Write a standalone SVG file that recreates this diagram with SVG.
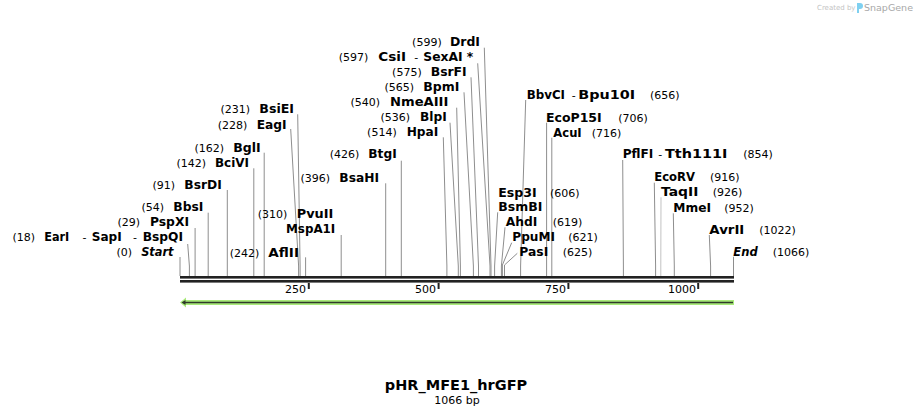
<svg xmlns="http://www.w3.org/2000/svg" width="914" height="415" viewBox="0 0 914 415">
<style>
text{font-family:"DejaVu Sans",Verdana,sans-serif;fill:#000}
.n{font-size:11px}
.b{font-size:12px;font-weight:bold}
.i{font-style:italic}
.e{text-anchor:end}
.c{text-anchor:middle}
.ln{fill:none;stroke:#8e8e8e;stroke-width:1}
.tk{font-size:11px}
</style>
<rect width="914" height="415" fill="#fff"/>
<g id="watermark">
<text x="817" y="10" style="font-size:7px;fill:#c4c4c4">Created by</text>
<path d="M857,3 h3 a3,3 0 0 1 0,6 h-1 v4 h-2 z" fill="#7fd0f0"/>
<text x="864" y="11" style="font-size:9.5px;fill:#a8a8a8">SnapGene</text>
</g>
<g id="connectors">
<path class="ln" d="M180,276V257"/>
<path class="ln" d="M189.4,276V266L187.7,244"/>
<path class="ln" d="M195.1,276V228"/>
<path class="ln" d="M208.2,276V212.7"/>
<path class="ln" d="M227.3,276V190"/>
<path class="ln" d="M253.8,276V168.3"/>
<path class="ln" d="M264.2,276V152.7"/>
<path class="ln" d="M298.6,276V266L290.7,129"/>
<path class="ln" d="M300.1,276V266L297.7,114.3"/>
<path class="ln" d="M305.6,276V257.3"/>
<path class="ln" d="M341.2,276V235"/>
<path class="ln" d="M385.7,276V183.3"/>
<path class="ln" d="M401.3,276V160.7"/>
<path class="ln" d="M446.9,276V266L443.3,137.3"/>
<path class="ln" d="M458.3,276V266L450,122.7"/>
<path class="ln" d="M460.4,276V266L456.7,107.7"/>
<path class="ln" d="M473.4,276V266L464,92.3"/>
<path class="ln" d="M478.5,276V266L471,77.3"/>
<path class="ln" d="M490,276V266L477.7,63.3"/>
<path class="ln" d="M491,276V266L484.3,47.7"/>
<path class="ln" d="M494.6,276V266L497.7,212.3"/>
<path class="ln" d="M501.4,276V266L505,227.3"/>
<path class="ln" d="M502.4,276V265L511.7,242.7"/>
<path class="ln" d="M504.5,276V265L517.3,253.3"/>
<path class="ln" d="M520.6,276V266L525.7,100"/>
<path class="ln" d="M546.6,276V122.7"/>
<path class="ln" d="M551.8,276V137.7"/>
<path class="ln" d="M623.4,276V266L622.7,160"/>
<path class="ln" d="M655.6,276V266L654.3,182.7"/>
<path class="ln" d="M660.8,276V266L661,197.3" style="stroke:#c2c2c2"/>
<path class="ln" d="M674.3,276V266L673.3,213.3"/>
<path class="ln" d="M710.6,276V266L709.3,235"/>
<path class="ln" d="M733.5,276V256.7"/>
</g>
<g id="ruler">
<rect x="180" y="276" width="554" height="2.6" fill="#222"/>
<rect x="180" y="280" width="554" height="2.6" fill="#222"/>
<rect x="307.8" y="283" width="2" height="6" fill="#222"/>
<rect x="437.6" y="283" width="2" height="6" fill="#222"/>
<rect x="567.4" y="283" width="2" height="6" fill="#222"/>
<rect x="697.2" y="283" width="2" height="6" fill="#222"/>
<text class="tk e" x="306" y="293">250</text>
<text class="tk e" x="436" y="293">500</text>
<text class="tk e" x="566" y="293">750</text>
<text class="tk e" x="696" y="293">1000</text>
</g>
<g id="feature">
<polygon points="180,302.5 186,297.5 186,300 734,300 734,305 186,305 186,307.5" fill="#a9ea7a"/>
<line x1="184" y1="302.5" x2="733" y2="302.5" stroke="#2f3a2a" stroke-width="1.6"/>
<polygon points="181.5,302.5 185.5,300 185.5,305" fill="#2f3a2a"/>
</g>
<g id="n-start"><text class="n e" x="132" y="256">(0)</text><text class="b i e" x="173.5" y="256" textLength="32.3" lengthAdjust="spacingAndGlyphs">Start</text></g>
<g id="n-eari"><text class="n e" x="35" y="241">(18)</text><text class="b" x="44.3" y="241" textLength="25" lengthAdjust="spacingAndGlyphs">EarI</text><text class="n" x="82.5" y="241">-</text><text class="b" x="91.7" y="241" textLength="30" lengthAdjust="spacingAndGlyphs">SapI</text><text class="n" x="133" y="241">-</text><text class="b e" x="183" y="241" textLength="40.3" lengthAdjust="spacingAndGlyphs">BspQI</text></g>
<g id="n-pspxi"><text class="n e" x="140" y="226">(29)</text><text class="b e" x="189" y="226" textLength="39" lengthAdjust="spacingAndGlyphs">PspXI</text></g>
<g id="n-bbsi"><text class="n e" x="164" y="210.5">(54)</text><text class="b e" x="203.3" y="210.5" textLength="30" lengthAdjust="spacingAndGlyphs">BbsI</text></g>
<g id="n-bsrdi"><text class="n e" x="175" y="188.5">(91)</text><text class="b e" x="221.7" y="188.5" textLength="37.4" lengthAdjust="spacingAndGlyphs">BsrDI</text></g>
<g id="n-bcivi"><text class="n e" x="206" y="166.5">(142)</text><text class="b e" x="249" y="166.5" textLength="34" lengthAdjust="spacingAndGlyphs">BciVI</text></g>
<g id="n-bgli"><text class="n e" x="224" y="151.5">(162)</text><text class="b e" x="260.7" y="151.5" textLength="27.4" lengthAdjust="spacingAndGlyphs">BglI</text></g>
<g id="n-eagi"><text class="n e" x="247.3" y="128.5">(228)</text><text class="b e" x="286.7" y="128.5" textLength="30" lengthAdjust="spacingAndGlyphs">EagI</text></g>
<g id="n-bsiei"><text class="n e" x="250" y="113">(231)</text><text class="b e" x="294" y="113" textLength="34.7" lengthAdjust="spacingAndGlyphs">BsiEI</text></g>
<g id="n-aflii"><text class="n e" x="259.3" y="256.5">(242)</text><text class="b e" x="299" y="256.5" textLength="30.7" lengthAdjust="spacingAndGlyphs">AflII</text></g>
<g id="n-pvuii"><text class="n e" x="287.3" y="218">(310)</text><text class="b e" x="333.3" y="218" textLength="36.6" lengthAdjust="spacingAndGlyphs">PvuII</text><text class="b e" x="335.3" y="232.5" textLength="49.3" lengthAdjust="spacingAndGlyphs">MspA1I</text></g>
<g id="n-bsahi"><text class="n e" x="330" y="181.5">(396)</text><text class="b e" x="379" y="181.5" textLength="39.7" lengthAdjust="spacingAndGlyphs">BsaHI</text></g>
<g id="n-btgi"><text class="n e" x="359.3" y="158">(426)</text><text class="b e" x="396.7" y="158" textLength="28.4" lengthAdjust="spacingAndGlyphs">BtgI</text></g>
<g id="n-hpai"><text class="n e" x="396.7" y="136">(514)</text><text class="b e" x="438.3" y="136" textLength="31.6" lengthAdjust="spacingAndGlyphs">HpaI</text></g>
<g id="n-blpi"><text class="n e" x="410" y="121">(536)</text><text class="b e" x="446.7" y="121" textLength="26.7" lengthAdjust="spacingAndGlyphs">BlpI</text></g>
<g id="n-nmeaiii"><text class="n e" x="380" y="106">(540)</text><text class="b e" x="448.3" y="106" textLength="58.3" lengthAdjust="spacingAndGlyphs">NmeAIII</text></g>
<g id="n-bpmi"><text class="n e" x="414" y="91">(565)</text><text class="b e" x="459.3" y="91" textLength="36" lengthAdjust="spacingAndGlyphs">BpmI</text></g>
<g id="n-bsrfi"><text class="n e" x="421.7" y="76">(575)</text><text class="b e" x="466.7" y="76" textLength="36" lengthAdjust="spacingAndGlyphs">BsrFI</text></g>
<g id="n-csii"><text class="n e" x="368.3" y="61">(597)</text><text class="b" x="378.3" y="61" textLength="27.7" lengthAdjust="spacingAndGlyphs">CsiI</text><text class="n" x="414.3" y="61">-</text><text class="b e" x="473.3" y="61" textLength="50" lengthAdjust="spacingAndGlyphs">SexAI *</text></g>
<g id="n-drdi"><text class="n e" x="441.7" y="46">(599)</text><text class="b e" x="480" y="46" textLength="30" lengthAdjust="spacingAndGlyphs">DrdI</text></g>
<g id="n-esp3i"><text class="b" x="498.3" y="196.5" textLength="38.4" lengthAdjust="spacingAndGlyphs">Esp3I</text><text class="n" x="550" y="196.5">(606)</text><text class="b" x="498.3" y="211" textLength="44" lengthAdjust="spacingAndGlyphs">BsmBI</text></g>
<g id="n-ahdi"><text class="b" x="505.7" y="226" textLength="31.6" lengthAdjust="spacingAndGlyphs">AhdI</text><text class="n" x="552.7" y="226">(619)</text></g>
<g id="n-ppumi"><text class="b" x="512.3" y="241" textLength="42.7" lengthAdjust="spacingAndGlyphs">PpuMI</text><text class="n" x="568.3" y="241">(621)</text></g>
<g id="n-pasi"><text class="b" x="519.3" y="256" textLength="29" lengthAdjust="spacingAndGlyphs">PasI</text><text class="n" x="562.7" y="256">(625)</text></g>
<g id="n-bbvci"><text class="b" x="526.7" y="98.5" textLength="38.3" lengthAdjust="spacingAndGlyphs">BbvCI</text><text class="n" x="571.7" y="98.5">-</text><text class="b" x="578.3" y="98.5" textLength="56.7" lengthAdjust="spacingAndGlyphs">Bpu10I</text><text class="n" x="650" y="98.5">(656)</text></g>
<g id="n-ecop15i"><text class="b" x="546" y="121.5" textLength="55.7" lengthAdjust="spacingAndGlyphs">EcoP15I</text><text class="n" x="618.3" y="121.5">(706)</text></g>
<g id="n-acui"><text class="b" x="553.3" y="136.5" textLength="28.4" lengthAdjust="spacingAndGlyphs">AcuI</text><text class="n" x="591.7" y="136.5">(716)</text></g>
<g id="n-pflfi"><text class="b" x="622.7" y="158" textLength="30.6" lengthAdjust="spacingAndGlyphs">PflFI</text><text class="n" x="658.3" y="158">-</text><text class="b" x="665" y="158" textLength="62.3" lengthAdjust="spacingAndGlyphs">Tth111I</text><text class="n" x="743.3" y="158">(854)</text></g>
<g id="n-ecorv"><text class="b" x="654.3" y="181" textLength="40.7" lengthAdjust="spacingAndGlyphs">EcoRV</text><text class="n" x="710" y="181">(916)</text></g>
<g id="n-taqii"><text class="b" x="661" y="196" textLength="37.3" lengthAdjust="spacingAndGlyphs">TaqII</text><text class="n" x="712.7" y="196">(926)</text></g>
<g id="n-mmei"><text class="b" x="673.3" y="211.5" textLength="37.7" lengthAdjust="spacingAndGlyphs">MmeI</text><text class="n" x="724.3" y="211.5">(952)</text></g>
<g id="n-avrii"><text class="b" x="709.3" y="233.5" textLength="35" lengthAdjust="spacingAndGlyphs">AvrII</text><text class="n" x="759.3" y="233.5">(1022)</text></g>
<g id="n-end"><text class="b i" x="733.3" y="256" textLength="24.4" lengthAdjust="spacingAndGlyphs">End</text><text class="n" x="772.7" y="256">(1066)</text></g>
<g id="title">
<text class="c" x="456" y="390" style="font-size:14.5px;font-weight:bold">pHR_MFE1_hrGFP</text>
<text class="c n" x="457" y="404">1066 bp</text>
</g>
</svg>
